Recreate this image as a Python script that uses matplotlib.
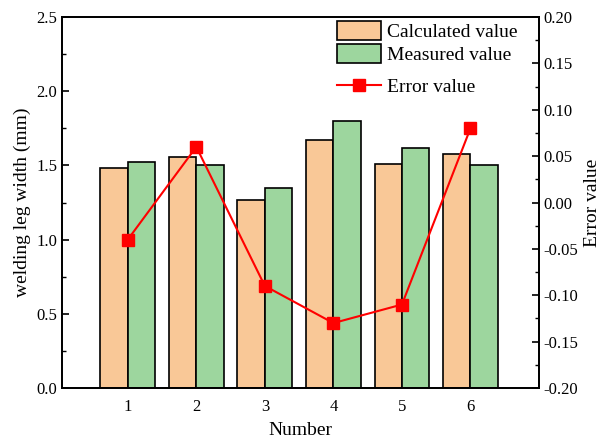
import numpy as np
import matplotlib.pyplot as plt
from matplotlib.patches import Patch
from matplotlib.lines import Line2D
from matplotlib.ticker import MultipleLocator

plt.rcParams['font.family'] = ['Liberation Serif', 'DejaVu Serif']
plt.rcParams['font.size'] = 12
plt.rcParams['axes.unicode_minus'] = False

# sample number and leg widths (mm)
numbers = [1, 2, 3, 4, 5, 6]
calculated = [1.48, 1.56, 1.27, 1.67, 1.51, 1.58]
measured = [1.52, 1.50, 1.35, 1.80, 1.62, 1.50]
error = [-0.04, 0.06, -0.09, -0.13, -0.11, 0.08]

calc_color = '#F9C897'
meas_color = '#9DD69E'
width = 0.4

fig = plt.figure(figsize=(6.04, 4.42), dpi=100)
ax = fig.add_axes([0.1026, 0.1222, 0.7898, 0.8393])
x = np.array(numbers)

ax.bar(x - width / 2, calculated, width, color=calc_color, edgecolor='black', linewidth=1.2)
ax.bar(x + width / 2, measured, width, color=meas_color, edgecolor='black', linewidth=1.2)

ax.set_xlim(0.04, 7.0)
ax.set_ylim(0, 2.5)
ax.set_xticks(numbers)
ax.yaxis.set_major_locator(MultipleLocator(0.5))
ax.yaxis.set_minor_locator(MultipleLocator(0.25))
ax.tick_params(axis='x', length=0, pad=8)
ax.tick_params(axis='y', direction='in', length=5, width=1.2)
ax.tick_params(axis='y', which='minor', direction='in', length=3, width=1.0)
ax.set_xlabel('Number', fontsize=14, labelpad=5)
ax.set_ylabel('welding leg width (mm)', fontsize=14)
for s in ax.spines.values():
    s.set_linewidth(1.3)

ax2 = ax.twinx()
ax2.plot(x, error, color='red', linewidth=1.5, marker='s', markersize=8.5)
ax2.set_ylim(-0.20, 0.20)
ax2.yaxis.set_major_locator(MultipleLocator(0.05))
ax2.yaxis.set_minor_locator(MultipleLocator(0.025))
ax2.tick_params(axis='y', direction='in', length=5, width=1.2)
ax2.tick_params(axis='y', which='minor', direction='in', length=3, width=1.0)
ax2.set_ylabel('Error value', fontsize=14)
for s in ax2.spines.values():
    s.set_linewidth(1.3)

# bar legend and line legend, stacked with a gap between them
bar_handles = [
    Patch(facecolor=calc_color, edgecolor='black', linewidth=1.2),
    Patch(facecolor=meas_color, edgecolor='black', linewidth=1.2),
]
leg1 = fig.legend(bar_handles, ['Calculated value', 'Measured value'],
                  loc='upper left', bbox_to_anchor=(337 / 604, 1 - 21 / 442),
                  frameon=False, fontsize=14, borderpad=0, borderaxespad=0,
                  handlelength=2.27, handleheight=1.1, handletextpad=0.3,
                  labelspacing=0.15)
line_handle = Line2D([], [], color='red', linewidth=1.5, marker='s', markersize=8.5)
fig.legend([line_handle], ['Error value'],
           loc='center left', bbox_to_anchor=(337 / 604, 1 - 87 / 442),
           frameon=False, fontsize=14, borderpad=0, borderaxespad=0,
           handlelength=2.27, handletextpad=0.3)

fig.savefig('out.png', dpi=100)
